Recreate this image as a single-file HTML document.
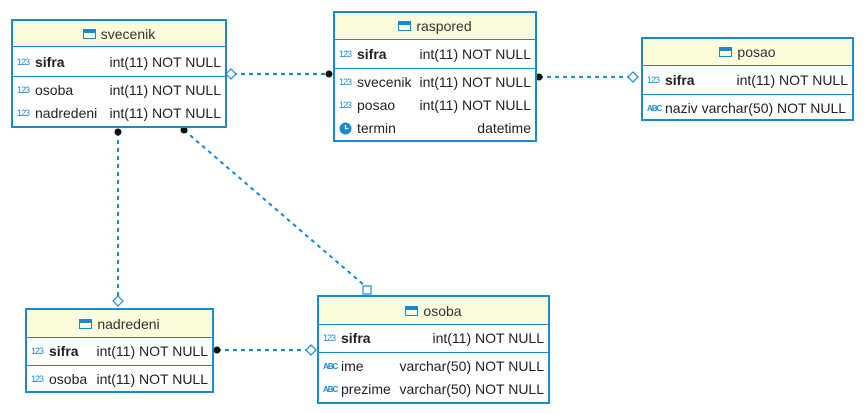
<!DOCTYPE html>
<html><head><meta charset="utf-8"><style>
body{margin:0;width:865px;height:414px;background:#fff;position:relative;overflow:hidden;font-family:"Liberation Sans",sans-serif;font-size:14px;color:#222}
.t{position:absolute;border:2px solid #1a8ad0;background:#fff;box-sizing:border-box}
.h{background:#fcfbdc;border-bottom:1px solid #1a8ad0;text-align:center;color:#333;box-sizing:border-box;display:flex;align-items:center;justify-content:center}
.ti{display:inline-block;width:13px;height:10px;border:1.5px solid #1a8ad0;background:linear-gradient(#1a8ad0 0 3px,transparent 3px) ;margin-right:5px;box-sizing:border-box;position:relative}
.r{position:relative;height:23px;line-height:23px;white-space:nowrap}
.r .n{position:absolute;left:22px}
.r .y{position:absolute;right:4px}
.ic{position:absolute;left:4px;top:0;font-size:9px;color:#1a8ad0;letter-spacing:-1px}
.sep{border-top:1px solid #1a8ad0}
b{font-weight:bold}
</style></head><body>
<svg width="865" height="414" style="position:absolute;left:0;top:0" fill="none">
<g stroke="#1a8ad0" stroke-width="2" stroke-dasharray="4,4">
<line x1="233" y1="74" x2="329" y2="74"/>
<line x1="539" y1="77" x2="630" y2="77"/>
<line x1="118" y1="132" x2="118" y2="297"/>
<line x1="184" y1="130" x2="365" y2="286"/>
<line x1="217" y1="350" x2="306" y2="350"/>
</g>
<g fill="#111"><circle cx="329" cy="74" r="3.5"/><circle cx="539" cy="77" r="3.5"/><circle cx="118" cy="132" r="3.5"/><circle cx="184" cy="130" r="3.5"/><circle cx="217" cy="350" r="3.5"/></g>
<g stroke="#1a8ad0" stroke-width="1.2" fill="#fff">
<polygon points="226,74 231,69 236,74 231,79"/>
<polygon points="628,77 633,72 638,77 633,82"/>
<polygon points="118,296 123,301 118,306 113,301"/>
<polygon points="306,350 311,345 316,350 311,355"/>
<rect x="363" y="286" width="8" height="8"/>
</g>
</svg>

<div class="t" style="left:11px;top:19px;width:216px;height:109px">
<div class="h" style="height:26px"><span class="ti"></span>svecenik</div>
<div class="r" style="margin-top:4px"><span class="ic">123</span><span class="n"><b>sifra</b></span><span class="y">int(11) NOT NULL</span></div>
<div class="sep" style="margin-top:2px"></div>
<div class="r" style="margin-top:2px"><span class="ic">123</span><span class="n">osoba</span><span class="y">int(11) NOT NULL</span></div>
<div class="r"><span class="ic">123</span><span class="n">nadredeni</span><span class="y">int(11) NOT NULL</span></div>
</div>

<div class="t" style="left:333px;top:11px;width:204px;height:131px">
<div class="h" style="height:27px"><span class="ti"></span>raspored</div>
<div class="r" style="margin-top:3px"><span class="ic">123</span><span class="n"><b>sifra</b></span><span class="y">int(11) NOT NULL</span></div>
<div class="sep" style="margin-top:2px"></div>
<div class="r" style="margin-top:2px"><span class="ic">123</span><span class="n">svecenik</span><span class="y">int(11) NOT NULL</span></div>
<div class="r"><span class="ic">123</span><span class="n">posao</span><span class="y">int(11) NOT NULL</span></div>
<div class="r"><svg style="position:absolute;left:4px;top:5px" width="13" height="13"><circle cx="6.5" cy="6.5" r="6" fill="#1a8ad0"/><path d="M6.5 3V6.5H9.5" stroke="#fff" stroke-width="1.3" fill="none"/></svg><span class="n">termin</span><span class="y">datetime</span></div>
</div>

<div class="t" style="left:641px;top:37px;width:213px;height:84px">
<div class="h" style="height:27px"><span class="ti"></span>posao</div>
<div class="r" style="margin-top:3px"><span class="ic">123</span><span class="n"><b>sifra</b></span><span class="y">int(11) NOT NULL</span></div>
<div class="sep" style="margin-top:2px"></div>
<div class="r" style="margin-top:2px"><span class="ic" style="font-size:8px;font-weight:bold">ABC</span><span class="n">naziv varchar(50) NOT NULL</span></div>
</div>

<div class="t" style="left:25px;top:308px;width:189px;height:85px">
<div class="h" style="height:28px"><span class="ti"></span>nadredeni</div>
<div class="r" style="margin-top:2px"><span class="ic">123</span><span class="n"><b>sifra</b></span><span class="y">int(11) NOT NULL</span></div>
<div class="sep" style="margin-top:2px"></div>
<div class="r" style="margin-top:2px"><span class="ic">123</span><span class="n">osoba</span><span class="y">int(11) NOT NULL</span></div>
</div>

<div class="t" style="left:317px;top:295px;width:233px;height:109px">
<div class="h" style="height:28px"><span class="ti"></span>osoba</div>
<div class="r" style="margin-top:2px"><span class="ic">123</span><span class="n"><b>sifra</b></span><span class="y">int(11) NOT NULL</span></div>
<div class="sep" style="margin-top:2px"></div>
<div class="r" style="margin-top:2px"><span class="ic" style="font-size:8px;font-weight:bold">ABC</span><span class="n">ime</span><span class="y">varchar(50) NOT NULL</span></div>
<div class="r"><span class="ic" style="font-size:8px;font-weight:bold">ABC</span><span class="n">prezime</span><span class="y">varchar(50) NOT NULL</span></div>
</div>
</body></html>
